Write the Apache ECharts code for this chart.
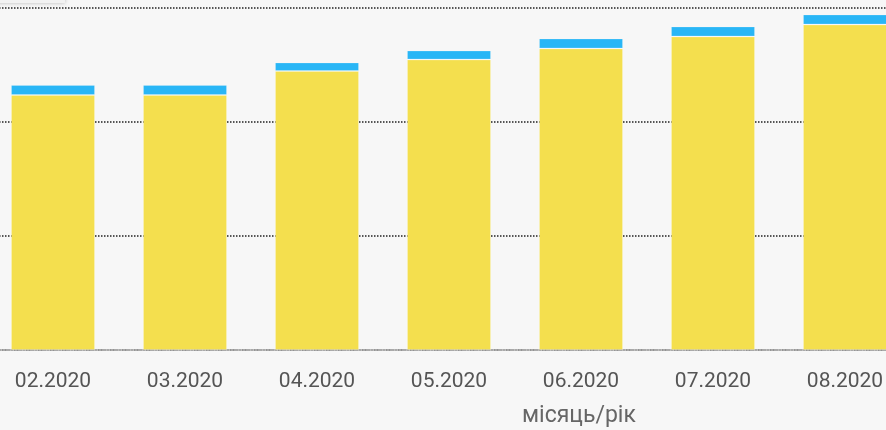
<!DOCTYPE html>
<html>
<head>
<meta charset="utf-8">
<script src="https://cdn.jsdelivr.net/npm/echarts@6/dist/echarts.min.js"></script>
<style>
  html, body { margin: 0; padding: 0; background: #f7f7f7; overflow: hidden; }
  #chart { width: 924px; height: 430px; margin-left: -13px; }
</style>
</head>
<body>
<div id="chart"></div>
<script>
// months on the x axis
const months = ['02.2020', '03.2020', '04.2020', '05.2020', '06.2020', '07.2020', '08.2020'];
// stacked series (axis 0..300)
const yellowValues = [223.7, 223.7, 244.7, 254.8, 264.5, 275.0, 285.5];
const blueValues = [8.8, 8.8, 7.5, 7.9, 8.8, 8.8, 8.8];

const chart = echarts.init(document.getElementById('chart'));

const option = {
  backgroundColor: '#f7f7f7',
  animation: false,
  grid: { left: 0, right: 0, top: 8, bottom: 80, containLabel: false },
  xAxis: {
    type: 'category',
    data: months,
    axisTick: { show: false },
    axisLine: { lineStyle: { color: '#aaa', type: 'dotted', width: 2 } },
    axisLabel: { color: '#555', fontFamily: 'Roboto', fontSize: 21, margin: 21 }
  },
  yAxis: {
    type: 'value',
    min: 0,
    max: 300,
    interval: 100,
    axisLabel: { show: false },
    axisLine: { show: false },
    axisTick: { show: false },
    splitLine: { lineStyle: { color: '#222', type: 'dotted', width: 1.5 } }
  },
  graphic: [
    {
      type: 'rect',
      shape: { x: 8, y: -20, width: 70, height: 23 },
      style: { fill: '#f2f2f2', shadowBlur: 4, shadowColor: 'rgba(0,0,0,0.25)' }
    },
    {
      type: 'text',
      left: 535,
      top: 405,
      style: { text: 'місяць/рік', fill: '#666', font: '23px Roboto' }
    }
  ],
  series: [
    {
      type: 'bar',
      stack: 'total',
      data: yellowValues,
      barWidth: 84,
      itemStyle: { color: '#f4df4e', borderColor: 'rgba(255,255,255,0.2)', borderWidth: 1 }
    },
    {
      type: 'bar',
      stack: 'total',
      data: blueValues,
      barWidth: 84,
      itemStyle: { color: '#29b6f6', borderColor: 'rgba(255,255,255,0.2)', borderWidth: 1 }
    }
  ]
};

chart.setOption(option);
</script>
</body>
</html>
